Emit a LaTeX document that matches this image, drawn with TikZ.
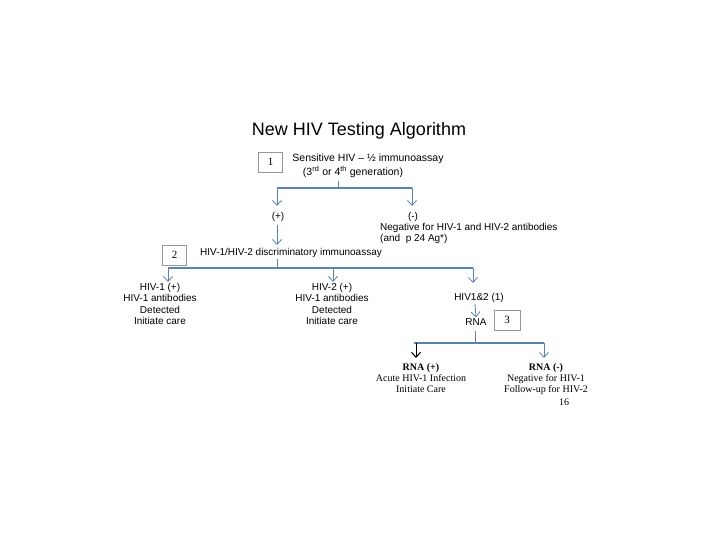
\documentclass[tikz,border=0pt]{standalone}
\usepackage{fontspec}
\setmainfont{Liberation Sans}
\newfontfamily\seriffam{Liberation Serif}
\usetikzlibrary{arrows.meta}
\definecolor{hivblue}{RGB}{84,130,186}
\definecolor{boxgray}{RGB}{150,150,150}
\tikzset{
  hline/.style={draw=hivblue,line width=1.4pt},
  stub/.style={draw=hivblue!70!gray,line width=0.7pt},
  arr/.style={draw=hivblue,line width=0.8pt,-{Straight Barb[length=5pt,width=9pt,line width=0.8pt]}},
  blkarr/.style={draw=black,line width=1pt,-{Straight Barb[length=5pt,width=9pt,line width=1pt]}},
  numbox/.style={draw=boxgray,line width=0.6pt,minimum width=24pt,minimum height=20pt,inner sep=0pt,font=\seriffam\fontsize{11}{12}\selectfont},
  txt/.style={inner sep=1pt,font=\fontsize{10}{11.5}\selectfont,align=center},
  stxt/.style={inner sep=1pt,font=\seriffam\fontsize{10}{11}\selectfont,align=center},
}
\begin{document}
\begin{tikzpicture}[x=1pt,y=-1pt]
\useasboundingbox (0,0) rectangle (720,540);
% title
\node[inner sep=0pt,font=\fontsize{18}{20}\selectfont] (title) at (359,131) {New HIV Testing Algorithm};
% step 1
\node[numbox] (b1) at (270.5,162) {1};
\node[txt,font=\fontsize{10.5}{12}\selectfont] (s1a) at (368,159) {Sensitive HIV -- ½ immunoassay};
\node[txt,font=\fontsize{10.5}{12}\selectfont] (s1b) at (353,172) {(3\textsuperscript{rd} or 4\textsuperscript{th} generation)};
\coordinate (t1) at (338,181);
\coordinate (j1) at (338,188);
\coordinate (cL) at (277,188);
\coordinate (cR) at (412,188);
\draw[stub] (t1) -- (j1);
\draw[hline] (cL) -- (cR);
\node[txt] (pos) at (278,217) {(+)};
\node[txt] (neg) at (413,217) {(-)};
\draw[arr] (cL) -- (277,206);
\draw[arr] (cR) -- (412,206);
\node[txt,anchor=north west,align=left,inner sep=0pt] (negtxt) at (380,223) {Negative for HIV-1 and HIV-2 antibodies\\(and~ p 24 Ag*)};
% step 2
\coordinate (a2) at (277,245);
\draw[arr] (pos.south) ++(-1,2) -- (a2);
\node[numbox] (b2) at (174.5,255) {2};
\node[txt] (s2) at (291,253) {HIV-1/HIV-2 discriminatory immunoassay};
\coordinate (t2) at (277,259);
\coordinate (j2) at (277,268);
\coordinate (dL) at (168,268);
\coordinate (dM) at (333,268);
\coordinate (dR) at (473,268);
\draw[stub] (t2) -- (j2);
\draw[hline] (dL) -- (dR);
\draw[arr] (dL) -- (168,282);
\draw[arr] (dM) -- (333,282);
\draw[arr] (dR) -- (473,283);
\node[txt,anchor=north] (h1) at (160,282) {HIV-1 (+)\\HIV-1 antibodies\\Detected\\Initiate care};
\node[txt,anchor=north] (h2) at (332,282) {HIV-2 (+)\\HIV-1 antibodies\\Detected\\Initiate care};
\node[txt] (h12) at (479,298) {HIV1\&2 (1)};
\node[txt] (rna) at (476,322) {RNA};
\draw[arr] (475,304) -- (rna.north);
\node[numbox,minimum width=26pt] (b3) at (507,320) {3};
% step 3
\coordinate (t3) at (475,331);
\coordinate (j3) at (475,343);
\coordinate (eL) at (416,343);
\coordinate (eR) at (544,343);
\draw[stub] (t3) -- (j3);
\draw[hline] (414,343) -- (eR);
\draw[blkarr] (eL) -- (416,358);
\draw[arr] (eR) -- (544,358);
\node[stxt,anchor=north] (rp) at (421,362) {\textbf{RNA (+)}\\Acute HIV-1 Infection\\Initiate Care};
\node[stxt,anchor=north] (rn) at (546,362) {\textbf{RNA (-)}\\Negative for HIV-1\\Follow-up for HIV-2};
\node[stxt] (pg) at (564,402) {16};
\end{tikzpicture}
\end{document}
